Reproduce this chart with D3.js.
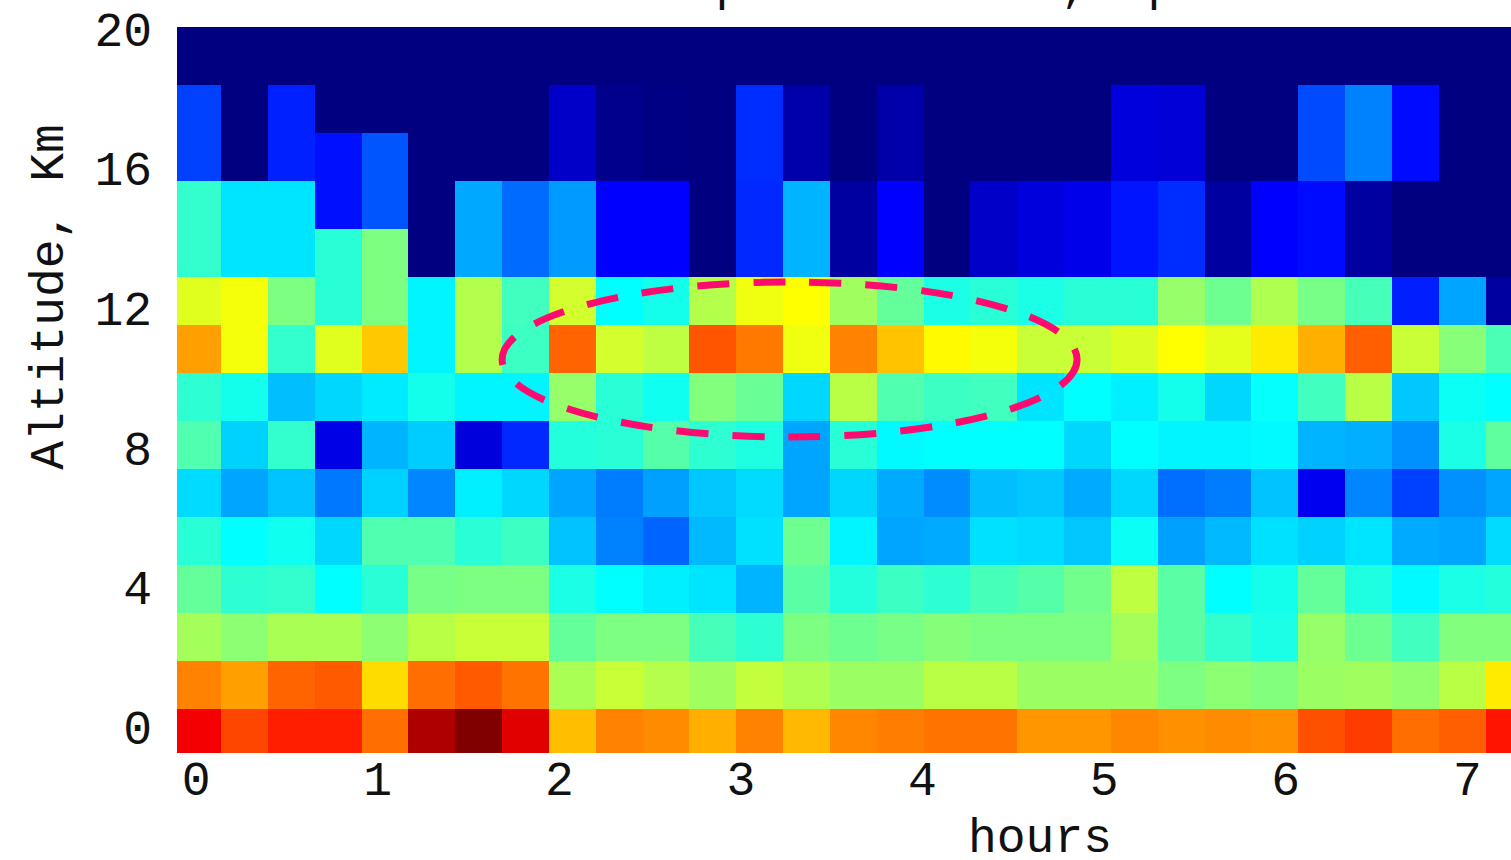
<!DOCTYPE html>
<html>
<head>
<meta charset="utf-8">
<script src="https://cdn.jsdelivr.net/npm/d3@7"></script>
<style>
  html, body { margin: 0; padding: 0; background: #fff; }
  svg { display: block; }
  text { font-family: "Liberation Mono", "DejaVu Sans Mono", monospace; fill: #111; }
</style>
</head>
<body>
<svg id="chart" width="1511" height="860"></svg>
<script>
// ---- data -------------------------------------------------------------
const titleText = "Lidar depolarization, April 10 2019";
const xLabel = "hours";
const yLabel = "Altitude, Km";

// bin centres
const hours = [0.000,0.258,0.516,0.774,1.032,1.290,1.547,1.805,2.063,2.321,2.579,2.837,3.095,3.353,3.611,3.869,4.126,4.384,4.642,4.900,5.158,5.416,5.674,5.932,6.190,6.448,6.705,6.963,7.221];
const altitudes = [0,1.375,2.75,4.125,5.5,6.875,8.25,9.625,11,12.375,13.75,15.125,16.5,17.875,19.25,20.625];

const xTicks = [0,1,2,3,4,5,6,7];
const yTicks = [0,4,8,12,16,20];

// normalised intensity (0..1) per altitude level, one value per hour bin
const alt00 = [0.885,0.806,0.846,0.846,0.767,0.953,1.000,0.904,0.689,0.748,0.738,0.703,0.748,0.694,0.743,0.752,0.762,0.762,0.728,0.728,0.743,0.733,0.738,0.733,0.797,0.816,0.767,0.782,0.855];
const alt01 = [0.748,0.718,0.777,0.787,0.659,0.767,0.787,0.762,0.542,0.571,0.551,0.532,0.566,0.547,0.527,0.527,0.556,0.556,0.527,0.527,0.527,0.498,0.512,0.502,0.527,0.532,0.517,0.556,0.645];
const alt02 = [0.537,0.512,0.542,0.542,0.512,0.556,0.571,0.571,0.473,0.498,0.498,0.444,0.419,0.498,0.483,0.493,0.505,0.498,0.498,0.498,0.537,0.463,0.424,0.400,0.522,0.483,0.439,0.502,0.502];
const alt03 = [0.473,0.419,0.424,0.375,0.414,0.493,0.498,0.498,0.400,0.375,0.360,0.350,0.301,0.463,0.409,0.434,0.419,0.444,0.458,0.488,0.561,0.463,0.375,0.395,0.473,0.404,0.370,0.400,0.409];
const alt04 = [0.414,0.375,0.390,0.336,0.453,0.453,0.414,0.434,0.316,0.252,0.223,0.306,0.346,0.483,0.365,0.287,0.292,0.346,0.341,0.321,0.385,0.282,0.306,0.346,0.331,0.350,0.292,0.287,0.341];
const alt05 = [0.341,0.287,0.316,0.243,0.331,0.257,0.360,0.336,0.287,0.248,0.282,0.321,0.341,0.287,0.336,0.292,0.262,0.311,0.321,0.292,0.336,0.233,0.248,0.316,0.110,0.257,0.189,0.267,0.287];
const alt06 = [0.453,0.331,0.424,0.101,0.301,0.326,0.091,0.164,0.409,0.414,0.458,0.419,0.404,0.287,0.414,0.370,0.375,0.375,0.375,0.336,0.375,0.365,0.365,0.370,0.301,0.297,0.267,0.400,0.468];
const alt07 = [0.419,0.395,0.311,0.336,0.355,0.395,0.365,0.365,0.522,0.414,0.390,0.502,0.478,0.336,0.556,0.453,0.434,0.439,0.350,0.375,0.360,0.395,0.336,0.380,0.439,0.556,0.321,0.385,0.375];
const alt08 = [0.718,0.615,0.424,0.596,0.679,0.365,0.551,0.434,0.777,0.581,0.561,0.792,0.757,0.610,0.748,0.684,0.630,0.615,0.571,0.571,0.591,0.625,0.600,0.645,0.703,0.782,0.571,0.507,0.449];
const alt09 = [0.596,0.615,0.498,0.414,0.498,0.365,0.551,0.439,0.581,0.375,0.395,0.551,0.610,0.625,0.532,0.473,0.400,0.414,0.400,0.414,0.414,0.522,0.483,0.547,0.493,0.444,0.154,0.287,0.032];
const alt10 = [0.424,0.350,0.350,0.414,0.498,0.000,0.290,0.231,0.277,0.125,0.125,0.000,0.164,0.301,0.032,0.125,0.000,0.071,0.091,0.105,0.145,0.169,0.032,0.125,0.135,0.032,0.000,0.000,0.000];
const alt11 = [0.424,0.350,0.350,0.141,0.208,0.000,0.290,0.231,0.277,0.125,0.125,0.000,0.164,0.301,0.032,0.125,0.000,0.071,0.091,0.105,0.145,0.169,0.032,0.125,0.135,0.032,0.000,0.000,0.000];
const alt12 = [0.188,0.000,0.156,0.141,0.208,0.000,0.000,0.000,0.071,0.012,0.005,0.000,0.169,0.042,0.000,0.042,0.000,0.000,0.000,0.000,0.091,0.086,0.000,0.000,0.199,0.252,0.135,0.000,0.000];
const alt13 = [0.188,0.000,0.156,0.000,0.000,0.000,0.000,0.000,0.071,0.012,0.005,0.000,0.169,0.042,0.000,0.042,0.000,0.000,0.000,0.000,0.091,0.086,0.000,0.000,0.199,0.252,0.135,0.000,0.000];
const alt14 = [0,0,0,0,0,0,0,0,0,0,0,0,0,0,0,0,0,0,0,0,0,0,0,0,0,0,0,0,0];
const alt15 = [0,0,0,0,0,0,0,0,0,0,0,0,0,0,0,0,0,0,0,0,0,0,0,0,0,0,0,0,0];
const levels = [alt00,alt01,alt02,alt03,alt04,alt05,alt06,alt07,alt08,alt09,alt10,alt11,alt12,alt13,alt14,alt15];

// highlighted region (centre hour / km, half-widths)
const cloudMark = { hour: 3.26, km: 10.67, dHour: 1.583, dKm: 2.22 };

// ---- layout ----------------------------------------------------------
const plot = { left: 177, right: 1511, top: 27, bottom: 753 };
const svg = d3.select("#chart");

const x = d3.scaleLinear().domain([-0.1134, 7.2324]).range([plot.left, plot.right]);
const y = d3.scaleLinear().domain([-0.6015, 20.1948]).range([plot.bottom, plot.top]);

function jet(v) {
  const c = t => Math.max(0, Math.min(1, t));
  const r = c(1.5 - Math.abs(4 * v - 3));
  const g = c(1.5 - Math.abs(4 * v - 2));
  const b = c(1.5 - Math.abs(4 * v - 1));
  return d3.rgb(Math.round(r * 255), Math.round(g * 255), Math.round(b * 255)).formatHex();
}
const color = d3.scaleSequential(jet).domain([0, 1]);

function edges(arr) {
  const e = [];
  for (let i = 0; i <= arr.length; i++) {
    if (i === 0) e.push(arr[0] - (arr[1] - arr[0]) / 2);
    else if (i === arr.length) e.push(arr[i - 1] + (arr[i - 1] - arr[i - 2]) / 2);
    else e.push((arr[i - 1] + arr[i]) / 2);
  }
  return e;
}
const hEdges = edges(hours);
const aEdges = edges(altitudes);

svg.append("defs").append("clipPath").attr("id", "plotClip")
  .append("rect")
  .attr("x", plot.left).attr("y", plot.top)
  .attr("width", plot.right - plot.left).attr("height", plot.bottom - plot.top);

const cells = [];
levels.forEach((row, k) => row.forEach((v, i) => cells.push({ i, k, v })));

svg.append("g").attr("clip-path", "url(#plotClip)")
  .selectAll("rect").data(cells).join("rect")
  .attr("x", d => x(hEdges[d.i]))
  .attr("y", d => y(aEdges[d.k + 1]))
  .attr("width", d => x(hEdges[d.i + 1]) - x(hEdges[d.i]) + 0.6)
  .attr("height", d => y(aEdges[d.k]) - y(aEdges[d.k + 1]) + 0.6)
  .attr("fill", d => color(d.v))
  .attr("shape-rendering", "crispEdges");

// dashed ellipse annotation
svg.append("g").attr("clip-path", "url(#plotClip)")
  .append("ellipse")
  .attr("cx", x(cloudMark.hour))
  .attr("cy", y(cloudMark.km))
  .attr("rx", x(cloudMark.hour + cloudMark.dHour) - x(cloudMark.hour))
  .attr("ry", y(cloudMark.km) - y(cloudMark.km + cloudMark.dKm))
  .attr("fill", "none")
  .attr("stroke", "#ff0a6e")
  .attr("stroke-width", 7)
  .attr("stroke-dasharray", "32 24");

// axes (labels only)
const xAxis = d3.axisBottom(x).tickValues(xTicks).tickSize(0).tickPadding(0).tickFormat(d3.format("d"));
const gx = svg.append("g").attr("transform", `translate(0,${plot.bottom})`).call(xAxis);
gx.select(".domain").remove();
gx.selectAll("text")
  .attr("y", 42).attr("dy", 0).attr("dx", -2)
  .style("font-size", "48px")
  .style("font-family", '"Liberation Mono", monospace');

const yAxis = d3.axisLeft(y).tickValues(yTicks).tickSize(0).tickPadding(0).tickFormat(d3.format("d"));
const gy = svg.append("g").attr("transform", `translate(${plot.left - 25},0)`).call(yAxis);
gy.select(".domain").remove();
gy.selectAll("text")
  .attr("x", 0).attr("dy", "0.32em")
  .attr("transform", "translate(0,-4)")
  .style("font-size", "48px")
  .style("font-family", '"Liberation Mono", monospace');

svg.append("text")
  .attr("x", 1040).attr("y", 852)
  .attr("text-anchor", "middle")
  .style("font-size", "48px")
  .text(xLabel);

svg.append("text")
  .attr("transform", "translate(63,297) rotate(-90)")
  .attr("text-anchor", "middle")
  .style("font-size", "48px")
  .text(yLabel);

svg.append("text")
  .attr("x", 485).attr("y", 0)
  .attr("text-anchor", "start")
  .style("font-size", "48px")
  .text(titleText);
</script>
</body>
</html>
